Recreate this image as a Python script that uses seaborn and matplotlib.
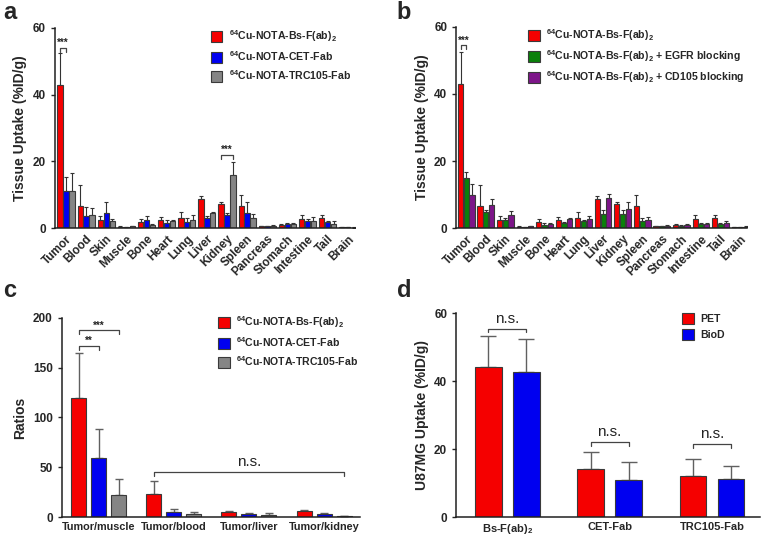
import numpy as np
import pandas as pd
import matplotlib
matplotlib.use("Agg")
import matplotlib.pyplot as plt
import matplotlib.patches as mpatches
import seaborn as sns

# ---- data ----
organs = ["Tumor", "Blood", "Skin", "Muscle", "Bone", "Heart", "Lung", "Liver",
          "Kidney", "Spleen", "Pancreas", "Stomach", "Intestine", "Tail", "Brain"]

bs_mean = [43.0, 6.7, 2.5, 0.4, 1.8, 2.3, 2.9, 8.6, 7.2, 6.7, 0.6, 1.0, 2.8, 3.0, 0.2]
bs_sd = [9.5, 6.3, 1.0, 0.2, 0.8, 0.9, 1.9, 1.1, 0.6, 3.3, 0.1, 0.3, 1.1, 0.8, 0.05]
cet_mean = [11.2, 3.5, 4.6, 0.2, 2.3, 1.5, 1.9, 3.1, 3.8, 4.5, 0.6, 1.1, 2.1, 1.7, 0.2]
cet_sd = [4.0, 2.7, 3.2, 0.1, 1.2, 0.8, 1.0, 0.4, 0.8, 3.2, 0.1, 0.3, 0.6, 0.4, 0.05]
trc_mean = [11.0, 4.0, 2.1, 0.5, 0.9, 2.0, 2.3, 4.5, 16.0, 3.1, 0.7, 1.1, 2.2, 1.3, 0.15]
trc_sd = [5.5, 2.0, 0.6, 0.1, 0.3, 0.5, 1.6, 0.4, 3.8, 1.0, 0.1, 0.3, 1.0, 0.7, 0.05]

egfr_mean = [15.0, 4.8, 2.3, 0.3, 1.0, 1.5, 2.0, 4.1, 4.1, 2.2, 0.5, 0.6, 1.2, 1.2, 0.2]
egfr_sd = [1.7, 0.6, 0.8, 0.1, 0.6, 0.3, 0.5, 1.4, 1.2, 0.7, 0.1, 0.2, 0.3, 0.3, 0.05]
cd105_mean = [10.0, 6.8, 3.8, 0.5, 1.1, 2.7, 2.8, 9.0, 5.8, 2.4, 0.7, 0.9, 1.2, 1.5, 0.4]
cd105_sd = [3.3, 2.0, 1.2, 0.1, 0.4, 0.2, 0.7, 1.3, 2.0, 1.0, 0.1, 0.2, 0.3, 0.6, 0.1]

ratio_cats = ["Tumor/muscle", "Tumor/blood", "Tumor/liver", "Tumor/kidney"]
ratio_bs = [120.0, 23.5, 5.0, 6.0]
ratio_bs_sd = [45.0, 12.5, 1.5, 1.5]
ratio_cet = [59.6, 5.0, 3.5, 3.3]
ratio_cet_sd = [28.8, 3.0, 0.7, 1.2]
ratio_trc = [22.4, 3.3, 2.5, 0.7]
ratio_trc_sd = [16.1, 2.1, 1.5, 0.3]

d_groups = ["Bs-F(ab)$_2$", "CET-Fab", "TRC105-Fab"]
pet_mean = [44.0, 14.2, 12.0]
pet_sd = [9.4, 4.9, 5.0]
biod_mean = [42.8, 11.0, 11.2]
biod_sd = [9.5, 5.3, 3.9]

lab_bs = r"$^{64}$Cu-NOTA-Bs-F(ab)$_2$"
lab_cet = r"$^{64}$Cu-NOTA-CET-Fab"
lab_trc = r"$^{64}$Cu-NOTA-TRC105-Fab"
lab_egfr = r"$^{64}$Cu-NOTA-Bs-F(ab)$_2$ + EGFR blocking"
lab_cd105 = r"$^{64}$Cu-NOTA-Bs-F(ab)$_2$ + CD105 blocking"

RED, BLUE, GRAY = "#f50000", "#0000f0", "#858585"
GREEN, PURPLE = "#0a800a", "#7d1589"
EDGE = "#3a3a3a"

sns.set_style("ticks")
plt.rcParams["font.family"] = ["Liberation Sans", "DejaVu Sans"]
plt.rcParams["font.weight"] = "bold"
plt.rcParams["axes.labelweight"] = "bold"
plt.rcParams["mathtext.fontset"] = "custom"
plt.rcParams["mathtext.bf"] = "Liberation Sans:bold"
plt.rcParams["mathtext.rm"] = "Liberation Sans:bold"
plt.rcParams["mathtext.default"] = "bf"


def bars(ax, cats, series, colors, width, gap, capsize, ecolor, elw):
    rows = []
    for name, vals, _ in series:
        for c, v in zip(cats, vals):
            rows.append({"cat": c, "val": v, "grp": name})
    df = pd.DataFrame(rows)
    names = [s[0] for s in series]
    sns.barplot(data=df, x="cat", y="val", hue="grp", order=cats, hue_order=names,
                palette=colors, saturation=1, errorbar=None, width=width, gap=gap,
                edgecolor=EDGE, linewidth=0.8, legend=False, ax=ax)
    pats = [p for p in ax.patches if p.get_height() > 0]
    pats.sort(key=lambda p: p.get_x())
    nh = len(series)
    xs = np.array([p.get_x() + p.get_width() / 2 for p in pats]).reshape(len(cats), nh)
    hs = np.array([p.get_height() for p in pats]).reshape(len(cats), nh)
    sds = np.array([s[2] for s in series]).T
    ax.errorbar(xs.ravel(), hs.ravel(), yerr=[np.zeros(xs.size), sds.ravel()],
                fmt="none", ecolor=ecolor, elinewidth=elw, capsize=capsize,
                capthick=elw, zorder=1)
    for p in pats:
        p.set_zorder(2)
    return xs


def bracket(ax, x1, x2, y, tick, text, fs, weight="bold", dy=0.0):
    ax.plot([x1, x1, x2, x2], [y - tick, y, y, y - tick], color="#444444", lw=0.9,
            clip_on=False)
    ax.text((x1 + x2) / 2, y + dy, text, ha="center", va="bottom", fontsize=fs,
            fontweight=weight, color="#222222")


def style(ax, ylabel, yticks, ylim, xfs=8.5):
    ax.set_xlabel("")
    ax.set_ylabel(ylabel, fontsize=10)
    ax.set_ylim(*ylim)
    ax.set_yticks(yticks)
    for s in ["top", "right"]:
        ax.spines[s].set_visible(False)
    for s in ["left", "bottom"]:
        ax.spines[s].set_linewidth(1.1)
        ax.spines[s].set_color("#202020")
    ax.tick_params(axis="y", labelsize=8.5, width=1.0, length=3)
    ax.tick_params(axis="x", length=0, labelsize=xfs)


def legend(ax, labels, colors, anchor):
    handles = [mpatches.Patch(facecolor=c, edgecolor=EDGE, linewidth=0.8) for c in colors]
    ax.legend(handles, labels, loc="upper left", bbox_to_anchor=anchor, frameon=False,
              fontsize=7.6, handlelength=1.1, handleheight=1.2, handletextpad=0.6,
              labelspacing=0.5, borderpad=0, borderaxespad=0)


fig = plt.figure(figsize=(7.63, 5.38), dpi=100)
ax_a = fig.add_axes([0.072, 0.576, 0.393, 0.372])
ax_b = fig.add_axes([0.598, 0.576, 0.381, 0.374])
ax_c = fig.add_axes([0.081, 0.039, 0.391, 0.370])
ax_d = fig.add_axes([0.598, 0.039, 0.398, 0.379])

# ---- a ----
xa = bars(ax_a, organs, [(lab_bs, bs_mean, bs_sd), (lab_cet, cet_mean, cet_sd),
                         (lab_trc, trc_mean, trc_sd)],
          [RED, BLUE, GRAY], 0.88, 0.1, 1.3, "#333333", 0.8)
style(ax_a, "Tissue Uptake (%ID/g)", [0, 20, 40, 60], (0, 60))
ax_a.set_xlim(-0.55, 14.35)
plt.setp(ax_a.get_xticklabels(), rotation=45, ha="right", rotation_mode="anchor")
bracket(ax_a, xa[0, 0], xa[0, 1], 54, 1.2, "***", 7)
bracket(ax_a, xa[8, 0], xa[8, 2], 22, 1.2, "***", 7)
legend(ax_a, [lab_bs, lab_cet, lab_trc], [RED, BLUE, GRAY], (0.52, 1.0))

# ---- b ----
xb = bars(ax_b, organs, [(lab_bs, bs_mean, bs_sd), (lab_egfr, egfr_mean, egfr_sd),
                         (lab_cd105, cd105_mean, cd105_sd)],
          [RED, GREEN, PURPLE], 0.88, 0.1, 1.3, "#333333", 0.8)
style(ax_b, "Tissue Uptake (%ID/g)", [0, 20, 40, 60], (0, 60))
ax_b.set_xlim(-0.51, 14.36)
plt.setp(ax_b.get_xticklabels(), rotation=45, ha="right", rotation_mode="anchor")
bracket(ax_b, xb[0, 0], xb[0, 1], 54.5, 1.2, "***", 7)
legend(ax_b, [lab_bs, lab_egfr, lab_cd105], [RED, GREEN, PURPLE], (0.247, 1.0))

# ---- c ----
xc = bars(ax_c, ratio_cats, [(lab_bs, ratio_bs, ratio_bs_sd),
                             (lab_cet, ratio_cet, ratio_cet_sd),
                             (lab_trc, ratio_trc, ratio_trc_sd)],
          [RED, BLUE, GRAY], 0.8, 0.25, 3, "#606060", 1.0)
style(ax_c, "Ratios", [0, 50, 100, 150, 200], (0, 200), xfs=7.8)
ax_c.set_xlim(-0.49, 3.48)
bracket(ax_c, xc[0, 0], xc[0, 1], 171.5, 3.5, "**", 7)
bracket(ax_c, xc[0, 0], xc[0, 2], 187.5, 3.5, "***", 7)
bracket(ax_c, xc[1, 0], xc[3, 2], 45, 3.5, "n.s.", 11, weight="normal", dy=3)
legend(ax_c, [lab_bs, lab_cet, lab_trc], [RED, BLUE, GRAY], (0.524, 1.02))

# ---- d ----
xd = bars(ax_d, d_groups, [("PET", pet_mean, pet_sd), ("BioD", biod_mean, biod_sd)],
          [RED, BLUE], 0.74, 0.3, 6, "#606060", 1.0)
style(ax_d, "U87MG Uptake (%ID/g)", [0, 20, 40, 60], (0, 60), xfs=8)
ax_d.set_xlim(-0.5, 2.47)
bracket(ax_d, xd[0, 0], xd[0, 1], 55.3, 1.0, "n.s.", 11, weight="normal", dy=1)
bracket(ax_d, xd[1, 0], xd[1, 1], 22.0, 1.0, "n.s.", 11, weight="normal", dy=1)
bracket(ax_d, xd[2, 0], xd[2, 1], 21.4, 1.0, "n.s.", 11, weight="normal", dy=1)
legend(ax_d, ["PET", "BioD"], [RED, BLUE], (0.743, 1.0))

for lbl, x, y in [("a", 0.004, 0.998), ("b", 0.52, 0.998),
                  ("c", 0.004, 0.482), ("d", 0.52, 0.482)]:
    fig.text(x, y, lbl, fontsize=17, fontweight="bold", ha="left", va="top")

fig.savefig("out.png", dpi=100)
